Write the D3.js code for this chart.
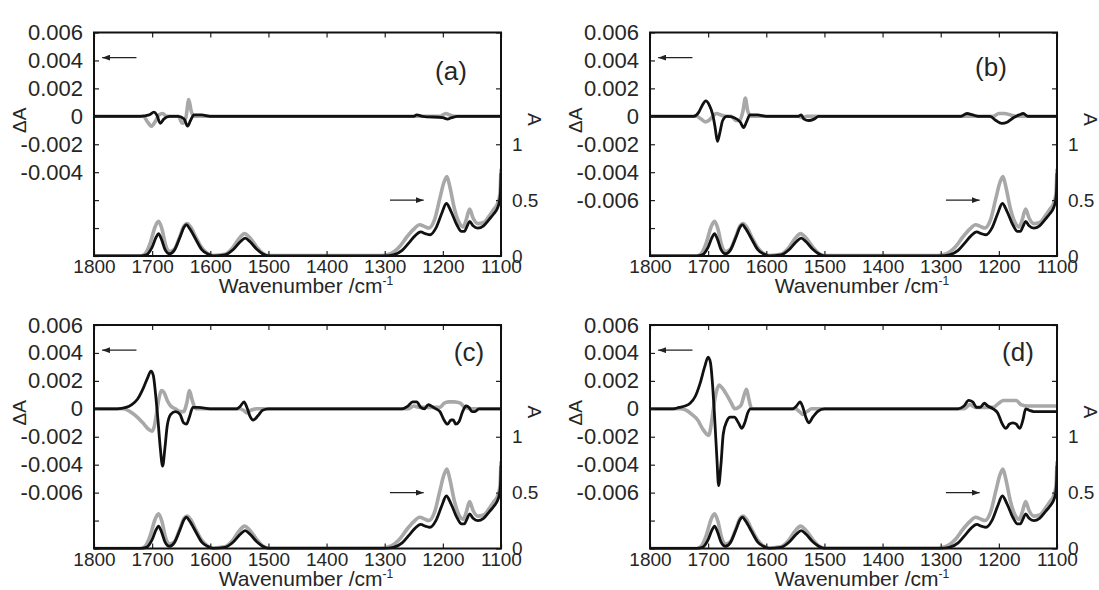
<!DOCTYPE html>
<html><head><meta charset="utf-8">
<script src="https://cdn.jsdelivr.net/npm/d3@7"></script>
<style>
body{margin:0;background:#fff}
svg{display:block}
text{font-family:"Liberation Sans",Arial,sans-serif;fill:#262626}
</style>
</head><body>
<svg id="chart" width="1099" height="590"></svg>
<script>
// ---------- tick labels ----------
const wnTicks = [1800,1700,1600,1500,1400,1300,1200,1100];
const dATickValues = [0.006,0.004,0.002,0,-0.002,-0.004,-0.006,-0.008,-0.010];
const dALabelsA = ["0.006","0.004","0.002","0","-0.002","-0.004"];
const dALabelsB = ["0.006","0.004","0.002","0","-0.002","-0.004","-0.006"];
const aTickValues = [0,0.5,1,1.5,2];
const aTickLabels = ["0","0.5","1"];
const panelNames = ["(a)","(b)","(c)","(d)"];

// ---------- absorbance spectra (right axis) [wavenumber, A] ----------
const absBlack = [[1800,0],[1720,0],[1710,0.01],[1700,0.08],[1693,0.17],[1689,0.2],[1684,0.15],[1678,0.06],[1670,0.02],[1662,0.05],[1652,0.17],[1645,0.26],[1641,0.28],[1636,0.25],[1625,0.15],[1615,0.06],[1605,0.02],[1595,0],[1575,0.01],[1560,0.06],[1548,0.13],[1540,0.16],[1532,0.13],[1520,0.06],[1510,0.02],[1500,0],[1300,0],[1285,0.01],[1270,0.05],[1258,0.12],[1248,0.18],[1238,0.215],[1230,0.2],[1222,0.19],[1212,0.25],[1202,0.38],[1194,0.47],[1186,0.4],[1176,0.28],[1168,0.22],[1163,0.22],[1158,0.27],[1154,0.31],[1148,0.27],[1140,0.25],[1130,0.27],[1120,0.33],[1112,0.38],[1106,0.43],[1103,0.48],[1101,0.56],[1100,0.74]];
const absGrey = [[1800,0],[1720,0],[1712,0.02],[1703,0.12],[1695,0.26],[1689,0.31],[1683,0.24],[1677,0.1],[1670,0.04],[1662,0.06],[1652,0.18],[1645,0.27],[1640,0.29],[1634,0.26],[1624,0.16],[1614,0.07],[1604,0.02],[1595,0.005],[1575,0.015],[1562,0.07],[1550,0.16],[1541,0.2],[1533,0.17],[1520,0.08],[1510,0.025],[1500,0.005],[1305,0.005],[1290,0.02],[1275,0.08],[1262,0.17],[1250,0.24],[1240,0.28],[1232,0.265],[1224,0.25],[1214,0.33],[1205,0.52],[1198,0.66],[1193,0.71],[1188,0.62],[1180,0.42],[1170,0.28],[1165,0.26],[1160,0.32],[1154,0.42],[1148,0.34],[1140,0.29],[1130,0.3],[1120,0.36],[1112,0.42],[1106,0.47],[1102,0.55],[1100,0.78]];

// ---------- difference spectra (left axis) [wavenumber, dA] ----------
const dA_a_black = [[1800,0],[1720,0],[1705,0.0001],[1697,0.0003],[1692,0.0001],[1686,-0.0005],[1680,-0.0002],[1670,0],[1655,0],[1645,-0.0002],[1639,-0.0007],[1634,-0.0003],[1628,0.0001],[1615,0.0001],[1600,0],[1250,0],[1245,0.0001],[1235,0],[1200,-0.0001],[1192,-0.0002],[1185,-0.0001],[1175,0],[1100,0]];
const dA_a_grey = [[1800,0],[1715,0],[1708,-0.0004],[1701,-0.0007],[1695,-0.0004],[1688,0.0001],[1682,0.0002],[1675,0],[1655,0],[1648,-0.0005],[1642,-0.0001],[1637,0.0012],[1633,0.0004],[1628,0],[1205,0],[1195,0.0002],[1188,0.0001],[1180,0],[1100,0]];
const dA_b_black = [[1800,0],[1725,0],[1716,0.0003],[1710,0.0008],[1704,0.0011],[1698,0.0008],[1692,0.0001],[1688,-0.0008],[1684,-0.0018],[1680,-0.0012],[1675,-0.0003],[1668,0],[1655,-0.0001],[1645,-0.0004],[1639,-0.0008],[1634,-0.0004],[1628,0.0001],[1615,0.0001],[1600,0],[1545,0],[1540,0.0001],[1535,-0.0002],[1527,-0.0003],[1518,-0.0002],[1510,0],[1265,0],[1255,0.0002],[1245,0.0001],[1235,0],[1215,0],[1205,-0.0003],[1195,-0.0005],[1185,-0.0004],[1175,-0.0001],[1165,0.0001],[1158,0.0002],[1150,0],[1100,0]];
const dA_b_grey = [[1800,0],[1720,0],[1712,-0.0002],[1705,-0.0004],[1699,-0.0003],[1692,0],[1686,0.0002],[1678,0.0001],[1670,0],[1660,0],[1652,-0.0003],[1646,-0.0003],[1640,0.0004],[1636,0.0013],[1632,0.0004],[1626,0],[1545,0],[1538,-0.0001],[1530,0],[1210,0],[1200,0.0002],[1190,0.0002],[1180,0.0001],[1170,0],[1100,0]];
const dA_c_black = [[1800,0],[1760,0],[1745,0.0001],[1735,0.0003],[1725,0.0007],[1715,0.0015],[1708,0.0022],[1702,0.0027],[1698,0.0024],[1694,0.001],[1690,-0.0008],[1686,-0.0028],[1682,-0.0041],[1678,-0.0028],[1674,-0.0012],[1668,-0.0004],[1660,-0.0002],[1652,-0.0004],[1646,-0.001],[1641,-0.0011],[1636,-0.0006],[1630,0.0001],[1620,0.0001],[1600,0],[1555,0],[1548,0.0002],[1542,0.0005],[1537,0.0001],[1532,-0.0005],[1526,-0.0008],[1518,-0.0005],[1510,-0.0001],[1500,0],[1270,0],[1260,0.0002],[1252,0.0005],[1245,0.0005],[1238,0.0001],[1232,0],[1225,0.0003],[1220,0.0002],[1212,0],[1205,-0.0002],[1198,-0.0008],[1192,-0.0011],[1186,-0.0008],[1182,-0.0008],[1178,-0.0011],[1172,-0.0009],[1166,-0.0002],[1160,0.0002],[1155,0.0001],[1150,-0.0002],[1145,-0.0002],[1138,0],[1100,0]];
const dA_c_grey = [[1800,0],[1750,0],[1738,-0.0002],[1728,-0.0005],[1716,-0.001],[1705,-0.0015],[1700,-0.0016],[1696,-0.0012],[1692,-0.0002],[1688,0.0008],[1684,0.0013],[1680,0.0012],[1674,0.0006],[1668,0.0002],[1660,0],[1652,-0.0002],[1646,-0.0002],[1640,0.0005],[1636,0.0013],[1631,0.0006],[1625,0],[1550,0],[1543,-0.0001],[1537,-0.0003],[1530,-0.0001],[1520,0],[1260,0],[1250,0.0002],[1240,0.0001],[1205,0.0001],[1198,0.0004],[1190,0.0005],[1180,0.0005],[1170,0.0004],[1162,0.0001],[1150,0],[1100,0]];
const dA_d_black = [[1800,0],[1760,0],[1750,0.0001],[1740,0.0002],[1731,0.0004],[1722,0.0009],[1714,0.0018],[1706,0.003],[1700,0.0037],[1696,0.0033],[1692,0.0015],[1689,-0.0005],[1685,-0.0035],[1682,-0.0055],[1678,-0.004],[1674,-0.0018],[1668,-0.0009],[1662,-0.0006],[1655,-0.0006],[1648,-0.001],[1642,-0.0014],[1637,-0.001],[1632,-0.0003],[1627,0],[1600,0],[1555,0],[1548,0.0002],[1542,0.0005],[1537,0.0001],[1532,-0.0006],[1527,-0.001],[1520,-0.0006],[1512,-0.0002],[1500,0],[1270,0],[1260,0.0002],[1252,0.0006],[1245,0.0005],[1238,0.0001],[1232,0.0001],[1225,0.0004],[1219,0.0002],[1210,0],[1202,-0.0003],[1195,-0.001],[1188,-0.0014],[1182,-0.0011],[1176,-0.001],[1170,-0.0011],[1164,-0.0014],[1158,-0.0007],[1154,0],[1148,-0.0001],[1140,-0.0002],[1100,-0.0002]];
const dA_d_grey = [[1800,0],[1748,0],[1738,-0.0001],[1728,-0.0004],[1718,-0.0008],[1710,-0.0014],[1703,-0.0018],[1699,-0.0019],[1695,-0.0012],[1691,0],[1686,0.0012],[1681,0.0017],[1676,0.0015],[1668,0.001],[1660,0.0004],[1654,0],[1648,0.0001],[1643,0.0003],[1638,0.001],[1634,0.0014],[1630,0.0007],[1625,0],[1550,0],[1543,-0.0002],[1537,-0.0004],[1530,-0.0002],[1522,0],[1260,0],[1250,0.0003],[1240,0.0001],[1210,0.0001],[1200,0.0004],[1192,0.0006],[1180,0.0006],[1170,0.0006],[1162,0.0003],[1150,0.0002],[1100,0.0002]];

// arrow annotations (data coordinates)
const leftArrow = {from:[1727,0.0042], to:[1786,0.0042]};
const rightArrow = {from:[1291,0.5], to:[1233,0.5]};

// ---------- layout ----------
const W = 407, H = 223.5;
const panels = [
  {x0:94,  y0:32.5, black:dA_a_black, grey:dA_a_grey, labels:dALabelsA, name:panelNames[0], lx:357, ly:38},
  {x0:650, y0:32.5, black:dA_b_black, grey:dA_b_grey, labels:dALabelsB, name:panelNames[1], lx:341, ly:34},
  {x0:94,  y0:325,  black:dA_c_black, grey:dA_c_grey, labels:dALabelsB, name:panelNames[2], lx:375, ly:27},
  {x0:650, y0:325,  black:dA_d_black, grey:dA_d_grey, labels:dALabelsB, name:panelNames[3], lx:368, ly:27}
];

const svg = d3.select("#chart");
const defs = svg.append("defs");
defs.append("marker").attr("id","ah").attr("viewBox","0 0 8 6")
  .attr("refX",8).attr("refY",3).attr("markerWidth",8).attr("markerHeight",6)
  .attr("markerUnits","userSpaceOnUse").attr("orient","auto")
  .append("path").attr("d","M0,0L8,3L0,6Z").attr("fill","#222");

const BLACK = "#111", GREY = "#a8a8a8";

panels.forEach((p, i) => {
  const g = svg.append("g").attr("transform", `translate(${p.x0},${p.y0})`);
  const x = d3.scaleLinear().domain([1800,1100]).range([0,W]);
  const yL = d3.scaleLinear().domain([-0.010,0.006]).range([H,0]);
  const yR = d3.scaleLinear().domain([0,2]).range([H,0]);

  defs.append("clipPath").attr("id","clip"+i).append("rect")
    .attr("x",0).attr("y",-1).attr("width",W).attr("height",H+2);
  const plot = g.append("g").attr("clip-path",`url(#clip${i})`);

  const lineL = d3.line().x(d=>x(d[0])).y(d=>yL(d[1])).curve(d3.curveMonotoneX);
  const lineR = d3.line().x(d=>x(d[0])).y(d=>yR(d[1])).curve(d3.curveMonotoneX);

  plot.append("path").attr("d",lineR(absGrey)).attr("fill","none").attr("stroke",GREY).attr("stroke-width",3.6).attr("stroke-linejoin","round");
  plot.append("path").attr("d",lineR(absBlack)).attr("fill","none").attr("stroke",BLACK).attr("stroke-width",2.8).attr("stroke-linejoin","round");
  plot.append("path").attr("d",lineL(p.grey)).attr("fill","none").attr("stroke",GREY).attr("stroke-width",3.6).attr("stroke-linejoin","round");
  plot.append("path").attr("d",lineL(p.black)).attr("fill","none").attr("stroke",BLACK).attr("stroke-width",2.8).attr("stroke-linejoin","round");

  // axes
  const styleAxis = (sel, fs) => {
    sel.select(".domain").remove();
    sel.selectAll(".tick line").attr("stroke","#222").attr("stroke-width",1.2);
    sel.selectAll(".tick text").attr("font-size",fs).attr("fill","#262626")
      .style("font-family",'"Liberation Sans",Arial,sans-serif');
  };
  const lblMap = new Map(dATickValues.map((v,k)=>[v, p.labels[k] || ""]));
  g.append("g").call(d3.axisLeft(yL).tickValues(dATickValues).tickFormat(v=>lblMap.get(v))
      .tickSizeInner(-5).tickSizeOuter(0).tickPadding(11)).call(s=>styleAxis(s,22));
  const rMap = new Map(aTickValues.map((v,k)=>[v, aTickLabels[k] || ""]));
  g.append("g").attr("transform",`translate(${W},0)`)
    .call(d3.axisRight(yR).tickValues(aTickValues).tickFormat(v=>rMap.get(v))
      .tickSizeInner(-5).tickSizeOuter(0).tickPadding(11)).call(s=>styleAxis(s,19));
  g.append("g").attr("transform",`translate(0,${H})`)
    .call(d3.axisBottom(x).tickValues(wnTicks).tickFormat(d3.format("d"))
      .tickSizeInner(-5).tickSizeOuter(0).tickPadding(4)).call(s=>styleAxis(s,19));
  g.append("g")
    .call(d3.axisTop(x).tickValues(wnTicks).tickFormat("")
      .tickSizeInner(-5).tickSizeOuter(0)).call(s=>styleAxis(s,19));

  // frame
  g.append("rect").attr("x",0).attr("y",0).attr("width",W).attr("height",H)
    .attr("fill","none").attr("stroke","#111").attr("stroke-width",2);

  // arrows
  g.append("line").attr("x1",x(leftArrow.from[0])).attr("y1",yL(leftArrow.from[1]))
    .attr("x2",x(leftArrow.to[0])).attr("y2",yL(leftArrow.to[1]))
    .attr("stroke","#222").attr("stroke-width",1.3).attr("marker-end","url(#ah)");
  g.append("line").attr("x1",x(rightArrow.from[0])).attr("y1",yR(rightArrow.from[1]))
    .attr("x2",x(rightArrow.to[0])).attr("y2",yR(rightArrow.to[1]))
    .attr("stroke","#222").attr("stroke-width",1.3).attr("marker-end","url(#ah)");

  // panel label
  g.append("text").attr("x",p.lx).attr("y",p.ly).attr("dy","0.35em")
    .attr("text-anchor","middle").attr("font-size",26).text(p.name);

  // axis titles
  const t = g.append("text").attr("x",124.7).attr("y",H+37).attr("font-size",21);
  t.append("tspan").text("Wavenumber /cm");
  t.append("tspan").attr("dy",-8).attr("font-size",12).text("-1");

  g.append("text").attr("transform",`translate(-75,${yL(0)+4}) rotate(-90)`)
    .attr("text-anchor","middle").attr("dy","0.35em").attr("font-size",19).text("ΔA");
  g.append("text").attr("transform",`translate(${W+34},${yL(0)+3}) rotate(90)`)
    .attr("text-anchor","middle").attr("dy","0.35em").attr("font-size",19).text("A");
});
</script>
</body></html>
